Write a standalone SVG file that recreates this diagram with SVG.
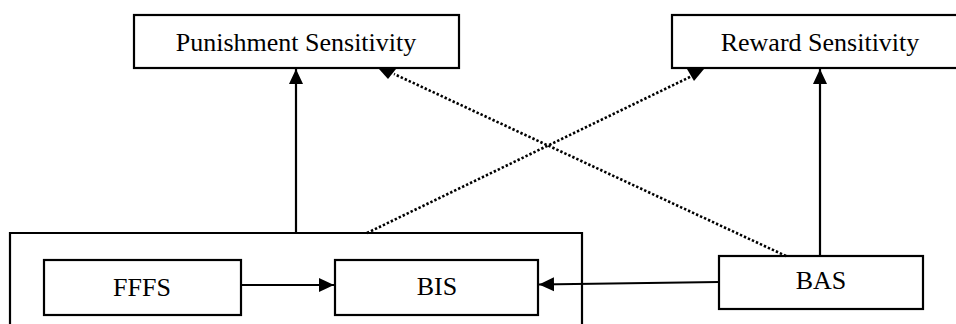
<svg xmlns="http://www.w3.org/2000/svg" width="956" height="324" viewBox="0 0 956 324">
<style>
.box{fill:#fff;stroke:#000;stroke-width:2.2}
.lbl{font-family:"Liberation Serif","Times New Roman",serif;font-size:26px;fill:#000;text-anchor:middle}
.solid{stroke:#000;stroke-width:2.2;fill:none}
.dot{stroke:#000;stroke-width:2.6;fill:none;stroke-dasharray:2.4 2}
</style>
<defs>
<marker id="ah" markerUnits="userSpaceOnUse" markerWidth="16" markerHeight="16" viewBox="0 0 16 16" refX="15" refY="8" orient="auto">
<path d="M0,1 L15,8 L0,15 Z" fill="#000"/>
</marker>
</defs>
<rect width="956" height="324" fill="#fff"/>
<g id="outer">
<path class="solid" d="M10,330 L10,233 L582,233 L582,330"/>
</g>
<g id="punishment">
<rect class="box" x="134" y="15" width="325" height="53"/>
<text class="lbl" x="296" y="51">Punishment Sensitivity</text>
</g>
<g id="reward">
<rect class="box" x="672" y="15" width="300" height="53"/>
<text class="lbl" x="820" y="51">Reward Sensitivity</text>
</g>
<g id="fffs">
<rect class="box" x="44" y="260" width="197" height="55"/>
<text class="lbl" x="142" y="296">FFFS</text>
</g>
<g id="bis">
<rect class="box" x="335" y="260" width="203" height="55"/>
<text class="lbl" x="437" y="295">BIS</text>
</g>
<g id="bas">
<rect class="box" x="719" y="256" width="204" height="53"/>
<text class="lbl" x="821" y="289">BAS</text>
</g>
<g id="connectors">
<line class="solid" x1="296" y1="233" x2="296" y2="69" marker-end="url(#ah)"/>
<line class="solid" x1="820" y1="256" x2="820" y2="69" marker-end="url(#ah)"/>
<line class="solid" x1="241" y1="285" x2="334" y2="285" marker-end="url(#ah)"/>
<line class="solid" x1="719" y1="282" x2="539" y2="284.5" marker-end="url(#ah)"/>
<line class="dot" x1="786" y1="256" x2="394" y2="74"/>
<polygon points="379,69 396,69 388,79" fill="#000"/>
<line class="dot" x1="367" y1="233" x2="692" y2="76"/>
<polygon points="687,69 704,69 694,81" fill="#000"/>
</g>
</svg>
